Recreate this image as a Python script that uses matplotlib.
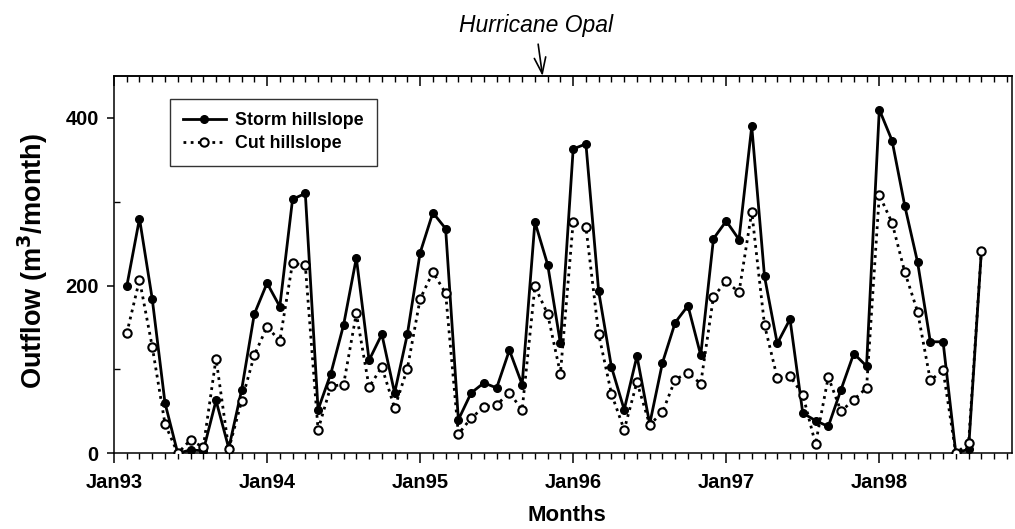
import matplotlib
matplotlib.use("Agg")
import matplotlib.pyplot as plt
import numpy as np

plt.rcParams['font.family'] = ['Liberation Sans', 'DejaVu Sans']

# monthly outflow, Feb 1993 .. Sep 1998 (m3/month)
storm = [199, 280, 184, 60, 0, 4, 3, 63, 6, 75, 166,
         203, 175, 303, 310, 52, 95, 153, 233, 111, 142, 72, 142,
         239, 287, 268, 40, 72, 84, 78, 123, 82, 276, 225, 131,
         363, 369, 193, 103, 52, 116, 35, 108, 156, 176, 117, 256,
         277, 255, 390, 211, 131, 160, 48, 39, 32, 76, 119, 104,
         410, 373, 295, 228, 133, 133, 0, 5, 241]
cut = [143, 207, 127, 35, 0, 16, 7, 113, 5, 62, 117,
       151, 134, 227, 224, 28, 80, 82, 167, 79, 103, 54, 101,
       184, 216, 191, 23, 42, 55, 58, 72, 52, 199, 166, 95,
       276, 270, 142, 71, 28, 85, 34, 49, 88, 96, 83, 187,
       205, 192, 288, 153, 90, 92, 70, 11, 91, 50, 64, 78,
       308, 275, 216, 169, 87, 99, 0, 12, 241]
primeiro_mes = 1  # Feb93, months counted from Jan93
rotulos_anos = ['Jan93', 'Jan94', 'Jan95', 'Jan96', 'Jan97', 'Jan98']

meses = np.arange(len(storm)) + primeiro_mes

fig = plt.figure(figsize=(10.15, 5.29), dpi=100)
ax = fig.add_axes([0.1123, 0.1431, 0.8847, 0.7132])

ax.plot(meses, storm, color='black', linewidth=2.0, marker='o', markersize=5.5,
        markerfacecolor='black', markeredgecolor='black', label='Storm hillslope', zorder=3)
ax.plot(meses, cut, color='black', linewidth=2.0, linestyle=(0, (1, 1.6)),
        marker='o', markersize=6, markerfacecolor='white', markeredgecolor='black',
        markeredgewidth=1.5, label='Cut hillslope', zorder=4)

ax.set_xlim(0, 70.4)
ax.set_ylim(0, 450)

# eixo x: anos com marcas mensais
ax.set_xticks(np.arange(len(rotulos_anos)) * 12)
ax.set_xticklabels(rotulos_anos)
ax.set_xticks(np.arange(0, 71), minor=True)
ax.tick_params(axis='x', which='major', direction='out', length=7, width=1.1,
               pad=7, labelsize=14.5)
ax.tick_params(axis='x', which='minor', direction='out', length=4.3, width=1.0)

topo = ax.secondary_xaxis('top')
topo.set_xticks(np.arange(len(rotulos_anos)) * 12)
topo.set_xticks(np.arange(0, 71), minor=True)
topo.tick_params(which='major', direction='in', length=7, width=1.1, labeltop=False)
topo.tick_params(which='minor', direction='in', length=4.3, width=1.0)
topo.spines['top'].set_linewidth(1.1)

# eixo y
ax.set_yticks([0, 200, 400])
ax.set_yticks([100, 300], minor=True)
ax.tick_params(axis='y', which='major', direction='out', length=5, width=1.1,
               pad=6, labelsize=14.5)
ax.tick_params(axis='y', which='minor', direction='in', length=4, width=1.0)
for lbl in ax.get_xticklabels() + ax.get_yticklabels():
    lbl.set_fontweight('bold')

for s in ax.spines.values():
    s.set_linewidth(1.1)

ax.set_ylabel('Outflow (m$^\\mathbf{3}$/month)', fontsize=19.5, fontweight='bold')
ax.yaxis.set_label_coords(-0.071, 0.51)
ax.set_xlabel('Months', fontsize=16, fontweight='bold')
ax.xaxis.set_label_coords(0.504, -0.138)

# Hurricane Opal (Oct 1995)
ax.annotate('Hurricane Opal', xy=(33.6, 1.0), xycoords=('data', 'axes fraction'),
            xytext=(-5, 31.5), textcoords='offset points', ha='center', va='baseline',
            fontsize=16.5, fontstyle='italic',
            arrowprops=dict(arrowstyle='->, head_length=0.7, head_width=0.25',
                            color='black', lw=1.2, shrinkA=3, shrinkB=0))

leg = ax.legend(loc='upper left', bbox_to_anchor=(0.062, 0.94), borderaxespad=0,
                numpoints=1, handlelength=2.4, handletextpad=0.5, labelspacing=0.35,
                borderpad=0.75, fancybox=False, edgecolor='black',
                prop={'size': 12.8, 'weight': 'bold'})
leg.get_frame().set_linewidth(1.0)

fig.savefig('out.png', dpi=100)
